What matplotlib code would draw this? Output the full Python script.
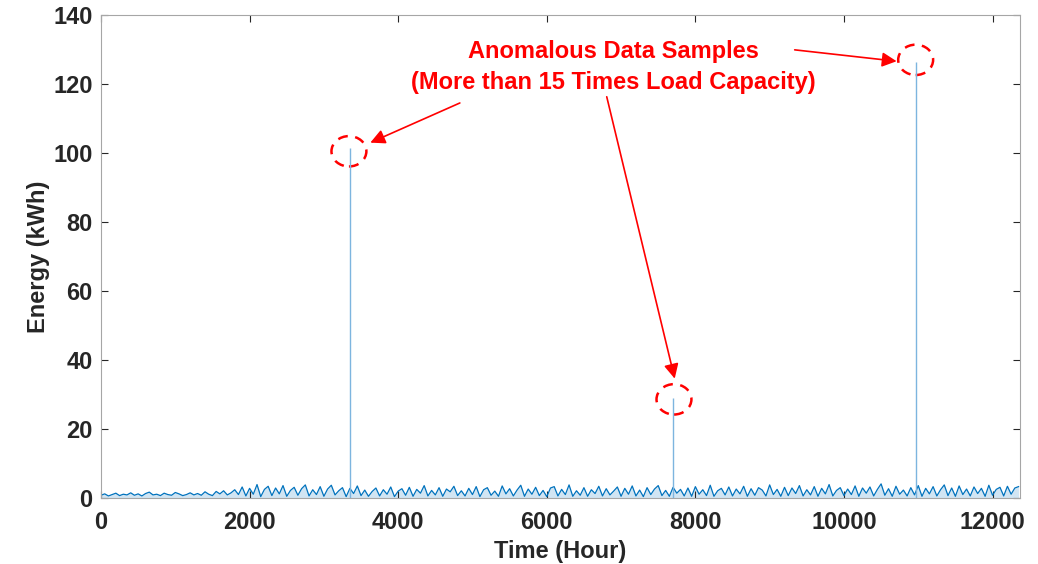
import numpy as np
import matplotlib.pyplot as plt
from matplotlib.patches import Ellipse

# hourly energy, one sample every 50 hours
step_hours = 50
energy = [
    0.8, 1.2, 0.6, 1.0, 1.4, 0.7, 1.1, 0.9, 1.5, 0.8, 1.2, 0.6, 1.3, 1.7, 0.9, 1.1, 0.7, 1.4, 1.0,
    0.8, 1.6, 1.2, 0.7, 1.0, 1.5, 0.9, 1.3, 0.8, 1.8, 1.1, 0.7, 1.9, 1.2, 2.1, 0.9, 1.5, 2.4, 1.0,
    3.2, 0.6, 2.8, 1.1, 3.9, 0.4, 2.5, 3.4, 0.7, 2.9, 1.2, 3.6, 0.5, 2.2, 3.1,
    0.8, 2.7, 3.8, 0.6, 2.4, 1.0, 3.3, 0.5, 2.6, 3.7, 0.9, 2.1, 3.0, 0.4, 2.8,
    1.3, 3.5, 0.7, 2.3, 0.5, 1.9, 2.9, 0.6, 2.4, 1.1, 3.2, 0.4, 2.0, 2.7, 0.8,
    3.1, 0.5, 2.5, 1.4, 3.6, 0.6, 2.2, 0.9, 3.0, 0.5, 2.6, 1.8, 3.4, 0.7, 2.1,
    0.6, 2.8, 1.0, 3.3, 0.4, 2.4, 3.0, 0.8, 2.0, 0.5, 3.5, 1.2, 2.7, 0.6, 2.3,
    3.7, 0.5, 2.6, 1.1, 3.1, 0.7, 2.2, 0.4, 2.9, 3.3, 0.6, 2.5, 1.0, 3.8, 0.5,
    2.1, 0.8, 3.0, 0.5, 2.4, 1.3, 3.4, 0.6, 2.7, 0.9, 2.0, 3.2, 0.5, 2.8, 1.1,
    3.5, 0.6, 2.3, 0.4, 3.0, 1.0, 2.6, 3.6, 0.7, 2.2, 0.5, 3.1, 1.4, 2.5, 0.6,
    2.9, 0.5, 3.3, 1.1, 2.4, 0.7, 3.7, 0.5, 2.1, 2.8, 0.9, 3.2, 0.6, 2.6, 1.2,
    3.4, 0.5, 2.7, 0.8, 3.0, 2.3, 0.6, 3.8, 1.0, 2.5, 0.5, 3.1, 0.7, 2.9, 1.3,
    3.6, 0.6, 2.4, 0.9, 3.3, 0.5, 2.8, 1.2, 3.9, 0.6, 2.2, 3.0, 0.7, 2.6, 1.0,
    3.5, 0.5, 2.9, 1.4, 3.2, 0.6, 2.5, 4.1, 0.8, 2.7, 0.5, 3.4, 1.1, 2.3, 0.6,
    3.0, 0.9, 3.6, 0.5, 2.8, 1.2, 3.3, 0.6, 2.4, 3.8, 0.7, 2.9, 0.5, 3.5, 1.0,
    2.6, 0.6, 3.2, 1.3, 2.8, 0.5, 3.7, 0.8, 2.5, 3.1, 0.6, 3.4, 1.1, 2.9, 3.3,
]
hours = np.arange(len(energy)) * step_hours

# anomalous samples
spike_hours = [3350, 7700, 10965]
spike_values = [101.5, 29.0, 126.5]

note = "Anomalous Data Samples\n(More than 15 Times Load Capacity)"

plt.rcParams['font.family'] = ['Liberation Sans', 'DejaVu Sans']
plt.rcParams['font.weight'] = 'bold'

fig = plt.figure(figsize=(10.38, 5.64), dpi=100)
ax = fig.add_axes([0.0973, 0.1170, 0.8854, 0.8564])

blue = '#0072BD'
ax.fill_between(hours, 0, energy, color=blue, alpha=0.18, lw=0)
ax.plot(hours, energy, color=blue, lw=0.9)
ax.vlines(spike_hours, 0, spike_values, color='#7db5df', lw=1.0)

ax.set_xlim(0, 12370)
ax.set_ylim(0, 140)
ax.set_xticks(range(0, 12001, 2000))
ax.set_yticks(range(0, 141, 20))
ax.tick_params(direction='in', top=True, right=True, length=5, width=0.8,
               color='#262626', labelsize=17, labelcolor='#262626')
ax.tick_params(axis='x', pad=9)
ax.tick_params(axis='y', pad=6)
for lab in ax.get_xticklabels() + ax.get_yticklabels():
    lab.set_fontweight('bold')
for s in ax.spines.values():
    s.set_color('#a6a6a6')
    s.set_linewidth(0.8)

ax.set_xlabel('Time (Hour)', fontsize=17, fontweight='bold', color='#262626', labelpad=5)
ax.set_ylabel('Energy (kWh)', fontsize=17, fontweight='bold', color='#262626', labelpad=2)

# dashed circles round the anomalies
for cx, cy in [(3337, 100.5), (7712, 28.6), (10965, 127.0)]:
    ax.add_patch(Ellipse((cx, cy), 470, 8.8, fill=False, ec='red', lw=1.8, ls=(0, (4, 3))))

ax.text(6900, 125.0, note, color='red', fontsize=17, fontweight='bold',
        ha='center', va='center', linespacing=1.45)

arrow = dict(arrowstyle='-|>', color='red', lw=1.2, mutation_scale=22, shrinkA=0, shrinkB=0)
ax.annotate('', xy=(3625, 103.0), xytext=(4830, 114.5), arrowprops=arrow)
ax.annotate('', xy=(7722, 34.6), xytext=(6807, 116.3), arrowprops=arrow)
ax.annotate('', xy=(10709, 126.6), xytext=(9337, 129.9), arrowprops=arrow)

fig.savefig('out.png', dpi=100)
